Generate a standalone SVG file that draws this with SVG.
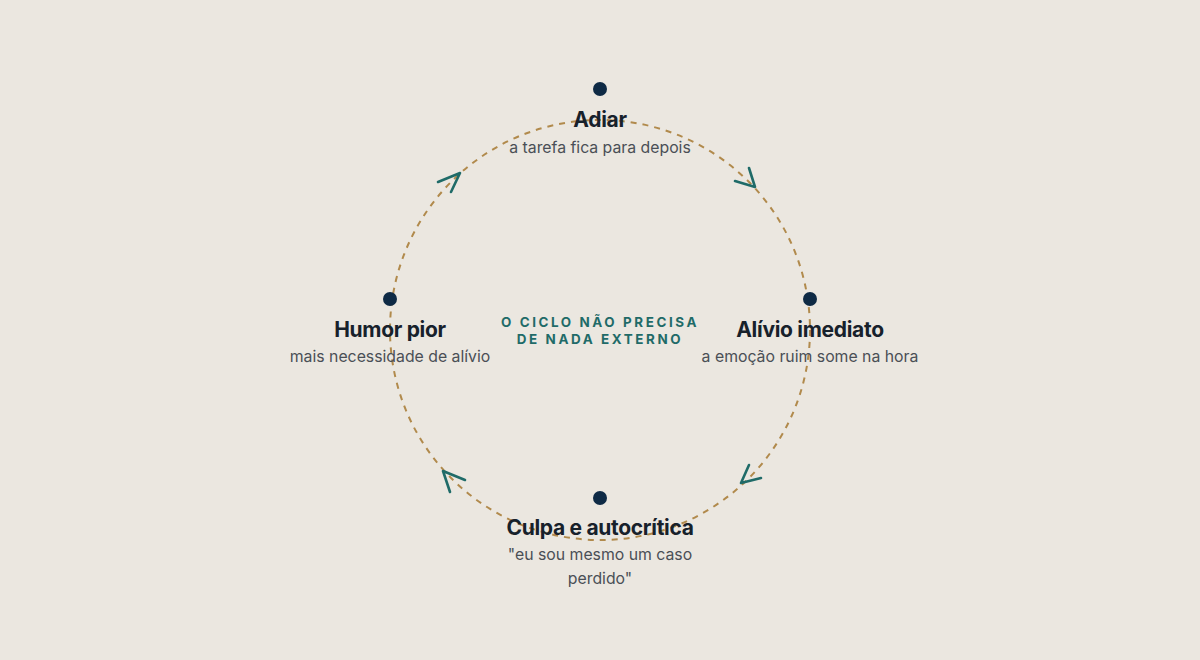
<svg xmlns="http://www.w3.org/2000/svg" width="1200" height="660" viewBox="0 0 1200 660">
<style>
.title{font-family:Inter,"Liberation Sans",sans-serif;font-weight:700;font-size:21px;fill:#17212b;text-anchor:middle;letter-spacing:-0.3px}
.sub{font-family:Inter,"Liberation Sans",sans-serif;font-size:15.8px;fill:#4a4f56;text-anchor:middle}
.center{font-family:Inter,"Liberation Sans",sans-serif;font-weight:700;font-size:13.4px;fill:#1f6b68;text-anchor:middle;letter-spacing:2.6px}
.dot{fill:#0e2a45}
.ring{fill:none;stroke:#b18a4c;stroke-width:2;stroke-dasharray:6 6}
.arr{fill:none;stroke:#1f6b68;stroke-width:2.6;stroke-linecap:round;stroke-linejoin:round}
</style>
<rect width="1200" height="660" fill="#ebe7e0"/>
<g id="connectors">
<circle class="ring" cx="600" cy="330" r="210"/>
<path class="arr" d="M749 168 L755 187 L735 181"/>
<path class="arr" d="M749 465 L741 483 L761 478"/>
<path class="arr" d="M465 480 L443 471 L450 492"/>
<path class="arr" d="M438 182 L460 173 L451 192"/>
</g>
<g id="node-adiar">
<circle class="dot" cx="600" cy="89" r="7"/>
<text class="title" x="600" y="127">Adiar</text>
<text class="sub" x="600" y="153">a tarefa fica para depois</text>
</g>
<g id="node-alivio">
<circle class="dot" cx="810" cy="299" r="7"/>
<text class="title" x="810" y="337">Alívio imediato</text>
<text class="sub" x="810" y="362">a emoção ruim some na hora</text>
</g>
<g id="node-culpa">
<circle class="dot" cx="600" cy="498" r="7"/>
<text class="title" x="600" y="535">Culpa e autocrítica</text>
<text class="sub" x="600" y="560">"eu sou mesmo um caso</text>
<text class="sub" x="600" y="584">perdido"</text>
</g>
<g id="node-humor">
<circle class="dot" cx="390" cy="299" r="7"/>
<text class="title" x="390" y="337">Humor pior</text>
<text class="sub" x="390" y="362">mais necessidade de alívio</text>
</g>
<g id="center-note">
<text class="center" x="600" y="327">O CICLO NÃO PRECISA</text>
<text class="center" x="600" y="344">DE NADA EXTERNO</text>
</g>
</svg>
